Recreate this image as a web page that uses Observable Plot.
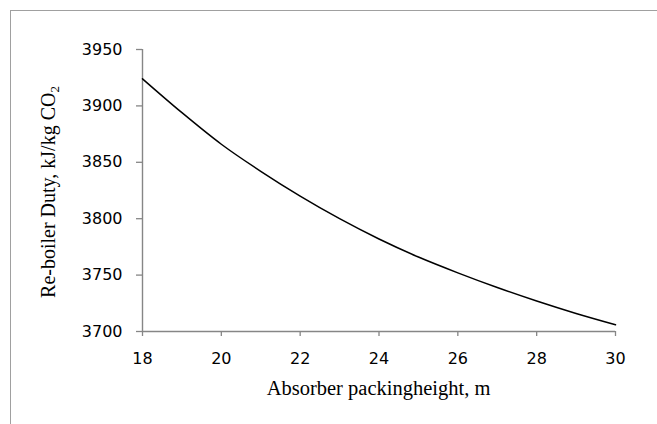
<!DOCTYPE html>
<html>
<head>
<meta charset="utf-8">
<script src="https://cdn.jsdelivr.net/npm/d3@7"></script>
<script src="https://cdn.jsdelivr.net/npm/@observablehq/plot@0.6"></script>
<style>
  html, body { margin: 0; padding: 0; background: #fff; overflow: hidden; }
  #wrap { position: relative; width: 657px; height: 424px; overflow: hidden; }
  #border { position: absolute; left: 10px; top: 10px; width: 700px; height: 500px;
            border: 1.5px solid #a0a0a0; pointer-events: none; }
</style>
</head>
<body>
<div id="wrap"><div id="border"></div></div>
<script>
// Data
const packingHeight = [18, 19, 20, 21, 22, 23, 24, 25, 26, 27, 28, 29, 30];
const reboilerDuty = [3924, 3894, 3866, 3842, 3820, 3800, 3782, 3766, 3752, 3739, 3727, 3716, 3706];
const xTicks = [18, 20, 22, 24, 26, 28, 30];
const yTicks = [3700, 3750, 3800, 3850, 3900, 3950];
const xTitle = "Absorber packingheight, m";
const yTitleMain = "Re-boiler Duty, kJ/kg CO";
const yTitleSub = "2";

const data = packingHeight.map((h, i) => ({h, d: reboilerDuty[i]}));

const axisGray = "#868686";
const chart = Plot.plot({
  width: 657,
  height: 424,
  marginLeft: 142,
  marginRight: 42,
  marginTop: 49,
  marginBottom: 93,
  style: {fontFamily: "DejaVu Sans", fontSize: "16px", color: "#000", background: "transparent", overflow: "visible"},
  x: {domain: [18, 30]},
  y: {domain: [3700, 3950]},
  marks: [
    Plot.axisX({ticks: xTicks, tickSize: 5, tickPadding: 16, stroke: axisGray, strokeWidth: 1.3, fill: "#000", label: null, tickFormat: d => String(d)}),
    Plot.axisY({ticks: yTicks, tickSize: 6, tickPadding: 14, stroke: axisGray, strokeWidth: 1.3, fill: "#000", label: null, tickFormat: d => String(d)}),
    Plot.ruleY([3700], {stroke: axisGray, strokeWidth: 1.4}),
    Plot.ruleX([18], {stroke: axisGray, strokeWidth: 1.4}),
    Plot.line(data, {x: "h", y: "d", stroke: "#000", strokeWidth: 1.5, curve: "monotone-x"})
  ]
});
document.getElementById("wrap").prepend(chart);

const svg = d3.select(chart);
svg.append("text")
  .attr("x", 378.5).attr("y", 395)
  .attr("text-anchor", "middle")
  .attr("font-family", "'Liberation Serif', serif")
  .attr("font-size", 20.5)
  .attr("fill", "#000")
  .text(xTitle);

const yt = svg.append("text")
  .attr("transform", "translate(55,192) rotate(-90)")
  .attr("text-anchor", "middle")
  .attr("font-family", "'Liberation Serif', serif")
  .attr("font-size", 20)
  .attr("fill", "#000");
yt.append("tspan").text(yTitleMain);
yt.append("tspan").attr("font-size", 13).attr("dy", 4).text(yTitleSub);
</script>
</body>
</html>
